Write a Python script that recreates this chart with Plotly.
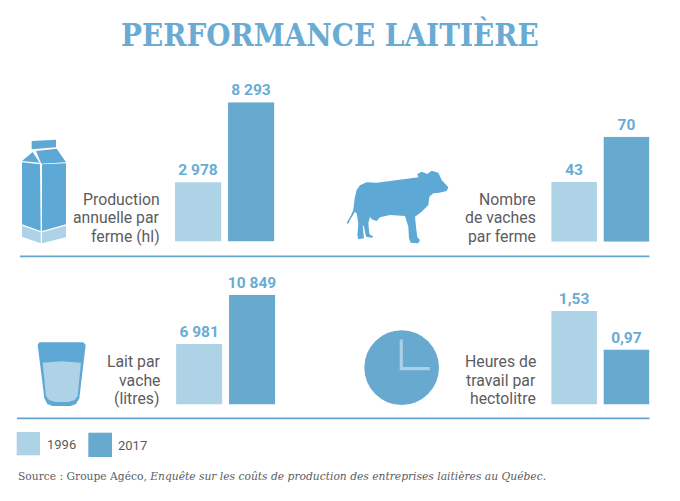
import plotly.graph_objects as go

W, H = 680, 501
BLUE = '#68a9d0'
LIGHT = '#aed2e6'
ICON = '#5ea8d6'
TEXT = '#5c5c5e'

years = ['1996', '2017']
production = [2978, 8293]
vaches = [43, 70]
lait = [6981, 10849]
heures = [1.53, 0.97]

production_labels = ['2 978', '8 293']
vaches_labels = ['43', '70']
lait_labels = ['6 981', '10 849']
heures_labels = ['1,53', '0,97']

# the bars in the original are not drawn from zero, each panel has its own floor
floors = [-975, 7.4, 2189, 0.177]
tops = [8293, 70, 10849, 1.53]


def px_x(x):
    return x / W


def px_y(y):
    return 1 - y / H


def path(pts, ox=0, oy=0, k=1.0):
    out = []
    for i, (x, y) in enumerate(pts):
        cmd = 'M' if i == 0 else 'L'
        out.append(f'{cmd}{px_x(ox + x * k):.5f},{px_y(oy + y * k):.5f}')
    return ' '.join(out) + ' Z'


def blob(pts, color, ox=0, oy=0, k=1.0):
    return dict(type='path', xref='paper', yref='paper', path=path(pts, ox, oy, k),
                fillcolor=color, line=dict(width=0))


def rule(x0, x1, y):
    return dict(type='line', xref='paper', yref='paper', x0=px_x(x0), x1=px_x(x1),
                y0=px_y(y), y1=px_y(y), line=dict(color='#62a6d2', width=1.6))


def note(text, x, y, size=16, color=TEXT, anchor='right', family='Roboto'):
    return dict(text=text, x=px_x(x), y=px_y(y), xref='paper', yref='paper',
                xanchor=anchor, yanchor='middle', showarrow=False, align=anchor,
                font=dict(family=family, size=size, color=color))


# value, label, floor, top, left and right of the panel, top and bottom of the panel
panels = [
    (production, production_labels, floors[0], tops[0], 171.6, 277.6, 102.3, 241.6),
    (vaches, vaches_labels, floors[1], tops[1], 548.0, 652.6, 136.7, 241.7),
    (lait, lait_labels, floors[2], tops[2], 172.7, 278.5, 295.0, 404.6),
    (heures, heures_labels, floors[3], tops[3], 548.0, 652.6, 311.0, 404.6),
]

fig = go.Figure()
layout = {}
for i, (vals, labels, floor, top, left, right, ytop, ybot) in enumerate(panels):
    n = '' if i == 0 else str(i + 1)
    fig.add_trace(go.Bar(
        x=years,
        y=[v - floor for v in vals],
        base=floor,
        text=labels,
        textposition='outside',
        cliponaxis=False,
        constraintext='none',
        textfont=dict(family='Roboto', size=15.5, color='#6aabd3', weight='bold'),
        marker=dict(color=[LIGHT, BLUE], line=dict(width=0)),
        xaxis='x' + n,
        yaxis='y' + n,
        showlegend=False,
    ))
    layout['xaxis' + n] = dict(domain=[px_x(left), px_x(right)], anchor='y' + n, visible=False,
                               type='category', range=[-0.5, 1.5])
    layout['yaxis' + n] = dict(domain=[px_y(ybot), px_y(ytop)], anchor='x' + n, visible=False,
                               range=[floor, top])

shapes = []

carton_pts = [
    ([(65, 33), (138, 29), (138, 52), (65, 58)], ICON),
    ([(36, 93), (68, 66), (89, 98)], ICON),
    ([(78, 63), (140, 56), (168, 97), (94, 101)], ICON),
    ([(36, 97), (90, 103), (92, 303), (36, 283)], ICON),
    ([(96, 103), (168, 100), (168, 283), (96, 303)], ICON),
    ([(36, 287), (92, 307), (92, 340), (36, 320)], LIGHT),
    ([(96, 307), (168, 287), (168, 322), (96, 340)], LIGHT),
]
for pts, col in carton_pts:
    shapes.append(blob(pts, col, 10, 130, 1 / 3))

cow = [(20, 188), (32, 168), (40, 150), (44, 115), (50, 90), (60, 76), (80, 67), (110, 68),
       (150, 63), (190, 58), (235, 52), (232, 42), (245, 35), (262, 42), (275, 32), (295, 38),
       (305, 60), (325, 82), (320, 93), (298, 98), (280, 100), (268, 110), (265, 135), (245, 155),
       (225, 170), (228, 200), (232, 232), (240, 240), (235, 250), (212, 248), (207, 235),
       (205, 200), (195, 168), (150, 165), (120, 172), (110, 183), (95, 178), (90, 170), (85, 190),
       (88, 222), (100, 230), (95, 233), (78, 230), (72, 200), (68, 195), (72, 235), (55, 238),
       (52, 225), (55, 190), (50, 160), (45, 155), (30, 180), (24, 192)]
shapes.append(blob(cow, ICON, 340, 160, 1 / 3))

glass = [(113, 225), (118, 217), (250, 217), (257, 225), (238, 385), (228, 402), (212, 408),
         (158, 408), (142, 402), (133, 385)]
glass_milk = [(128, 278), (185, 274), (243, 278), (233, 378), (224, 390), (205, 396), (165, 396),
              (147, 390), (138, 378)]
shapes.append(blob(glass, ICON, 0, 270, 1 / 3))
shapes.append(blob(glass_milk, LIGHT, 0, 270, 1 / 3))

shapes.append(dict(type='circle', xref='paper', yref='paper', x0=px_x(364.3), x1=px_x(439),
                   y0=px_y(330.2), y1=px_y(405), fillcolor='#68a9d0', line=dict(width=0)))
shapes.append(dict(type='path', xref='paper', yref='paper',
                   path=f'M{px_x(401.3):.5f},{px_y(339.5):.5f} L{px_x(401.3):.5f},{px_y(368.6):.5f} '
                        f'L{px_x(429.8):.5f},{px_y(368.6):.5f}',
                   line=dict(color='#a9d0e8', width=3.2)))

shapes.append(rule(20, 649.5, 256.4))
shapes.append(rule(17, 649.5, 418.4))

# legend swatches
for x0, x1, y0, y1, col in [(16.7, 40, 432, 455.3, LIGHT), (88.3, 112, 432.7, 457, BLUE)]:
    shapes.append(dict(type='rect', xref='paper', yref='paper', x0=px_x(x0), x1=px_x(x1),
                       y0=px_y(y0), y1=px_y(y1), fillcolor=col, line=dict(width=0)))

annotations = [
    note('<b>PERFORMANCE LAITIÈRE</b>', 329.5, 34.5, size=31, color='#6aabd3', anchor='center',
         family='DejaVu Serif Condensed'),
    note('1996', 44.5, 444, size=13, anchor='left'),
    note('2017', 116, 445, size=13, anchor='left'),
    note('Source : Groupe Agéco, <i>Enquête sur les coûts de production des entreprises laitières au Québec.</i>',
         16, 476, size=11.9, anchor='left', family='DejaVu Serif Condensed'),
]

side_text = [
    (['Production', 'annuelle par', 'ferme (hl)'], 161.5, [199.3, 217.7, 236.0]),
    (['Nombre', 'de vaches', 'par ferme'], 537.5, [199.3, 218.0, 236.5]),
    (['Lait par', 'vache', '(litres)'], 161.5, [361.7, 380.0, 398.3]),
    (['Heures de', 'travail par', 'hectolitre'], 537.5, [361.7, 380.0, 398.3]),
]
for lines, x, ys in side_text:
    for line, y in zip(lines, ys):
        annotations.append(note(line, x, y, size=15.8))

fig.update_layout(
    width=W,
    height=H,
    margin=dict(l=0, r=0, t=0, b=0),
    paper_bgcolor='white',
    plot_bgcolor='white',
    bargap=0.13,
    shapes=shapes,
    annotations=annotations,
    **layout,
)

# page has a default body margin that would push the chart off by 8px
fig.write_html('out.html', config={'displayModeBar': False},
               post_script="document.body.style.margin='0';")
